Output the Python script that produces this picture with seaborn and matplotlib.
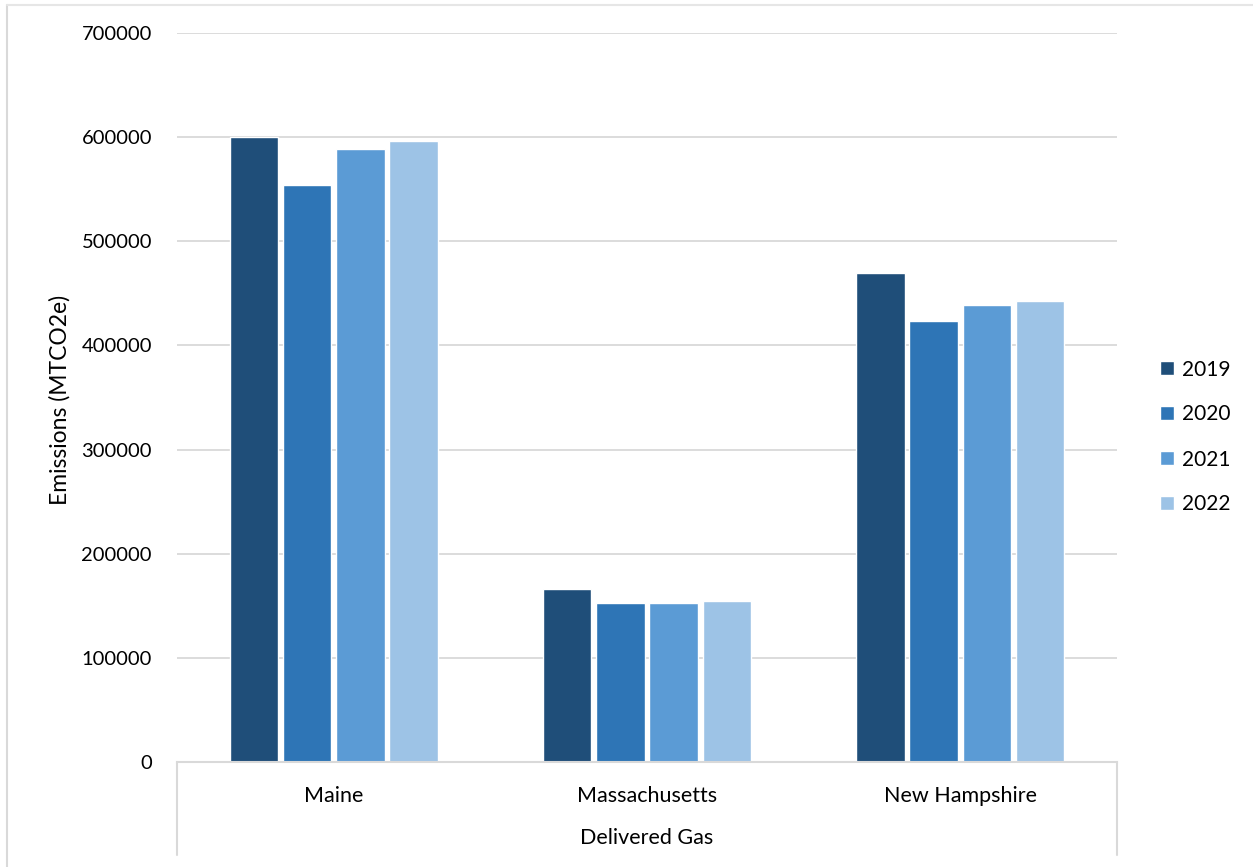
import matplotlib
matplotlib.use("Agg")
import matplotlib.pyplot as plt
import seaborn as sns
import pandas as pd
from matplotlib.lines import Line2D
from matplotlib.ticker import MultipleLocator, FuncFormatter

states = ["Maine", "Massachusetts", "New Hampshire"]
years = ["2019", "2020", "2021", "2022"]
v2019 = [600000, 166000, 469500]
v2020 = [554000, 152700, 423500]
v2021 = [588600, 152700, 438800]
v2022 = [596300, 154600, 442700]
colors = ["#1F4E79", "#2E75B6", "#5B9BD5", "#9DC3E6"]
group_label = "Delivered Gas"
y_label = "Emissions (MTCO2e)"

rows = []
for yr, vals in zip(years, [v2019, v2020, v2021, v2022]):
    for st, v in zip(states, vals):
        rows.append({"State": st, "Year": yr, "Emissions": v})
df = pd.DataFrame(rows)

sns.set_theme(style="white")
plt.rcParams["font.family"] = ["Lato", "DejaVu Sans"]
plt.rcParams["text.color"] = "#000000"

W, H = 1253, 867
fig = plt.figure(figsize=(W / 100, H / 100), dpi=100)
ax = fig.add_axes([177 / W, (H - 762) / H, (1117 - 177) / W, (762 - 33) / H])

sns.barplot(data=df, x="State", y="Emissions", hue="Year", order=states,
            hue_order=years, palette=colors, width=0.68, gap=0.09,
            saturation=1, ax=ax, legend=True)

ax.set_xlim(-0.5, len(states) - 0.5)
ax.set_ylim(0, 700000)
ax.yaxis.set_major_locator(MultipleLocator(100000))
ax.yaxis.set_major_formatter(FuncFormatter(lambda v, p: f"{int(v)}"))
ax.grid(axis="y", color="#D9D9D9", linewidth=1.3)
ax.set_axisbelow(True)
for s in ["left", "top", "right"]:
    ax.spines[s].set_visible(False)
ax.spines["bottom"].set_color("#D9D9D9")
ax.spines["bottom"].set_linewidth(1.5)

ax.tick_params(axis="y", length=0, pad=18, labelsize=14.5, labelcolor="#000000")
ax.tick_params(axis="x", length=0, pad=17, labelsize=15.5, labelcolor="#000000")
ax.set_xlabel("")
ax.set_ylabel("")
fig.text(60 / W, (H - 400) / H, y_label, rotation=90, ha="center", va="center",
         fontsize=16.5, color="#000000")

axh = 762 - 33
depth = (855 - 762) / axh
for xpos in (0, 1):
    ax.plot([xpos, xpos], [0, -depth], transform=ax.transAxes, clip_on=False,
            color="#D9D9D9", linewidth=1.5)
ax.text(0.5, -(838 - 762) / axh, group_label, transform=ax.transAxes,
        ha="center", va="center", fontsize=15.5, color="#000000")

handles, labels = ax.get_legend_handles_labels()
ax.legend_.remove()
fig.legend(handles, labels, loc="center left",
           bbox_to_anchor=(1160 / W, (H - 437) / H), frameon=False,
           borderpad=0, borderaxespad=0, handlelength=0.65, handleheight=0.65,
           handletextpad=0.4, labelspacing=1.2, fontsize=15)

# chart border
fig.add_artist(Line2D([6.5 / W, 6.5 / W], [0, (H - 5) / H], color="#D9D9D9", linewidth=1.5))
fig.add_artist(Line2D([6.5 / W, 1], [(H - 5) / H, (H - 5) / H], color="#E6E6E6", linewidth=1.5))

fig.savefig("out.png", dpi=100)
